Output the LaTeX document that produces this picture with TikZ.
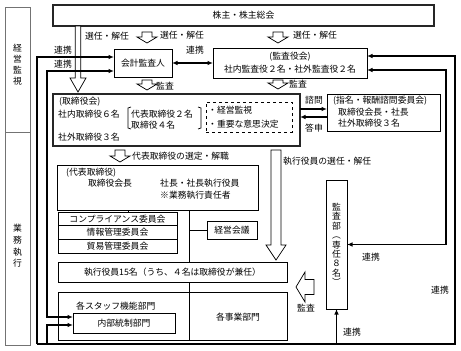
\documentclass[tikz,border=0pt]{standalone}
\usepackage{fontspec}
\setmainfont{Noto Sans CJK JP}
\usetikzlibrary{arrows.meta}
\newcommand\fs{\fontsize{8.8}{10.5}\selectfont}
\newcommand\hdarrow[6]{%
 \draw[hol] ({#1-#4},#2) -- ({#1-#4},{#3-#6}) -- ({#1-#5},{#3-#6}) -- (#1,#3) -- ({#1+#5},{#3-#6}) -- ({#1+#4},{#3-#6}) -- ({#1+#4},#2) -- cycle;}
\begin{document}
\begin{tikzpicture}[x=1pt,y=-1pt, font=\fs,
 bx/.style={draw, line width=0.7pt, inner sep=0pt, outer sep=0pt, anchor=north west},
 lbl/.style={inner sep=0pt},
 con/.style={line width=1.3pt, -{Latex[length=5.5pt,width=4.5pt]}},
 conb/.style={line width=1.3pt, {Latex[length=5.5pt,width=4.5pt]}-{Latex[length=5.5pt,width=4.5pt]}},
 thinl/.style={line width=0.7pt},
 hol/.style={draw, line width=0.7pt, fill=white, line join=miter}]
\useasboundingbox (0,0) rectangle (461,351);
\fill[white] (0,0) rectangle (461,351);

% left side labels
\node[bx, draw=black!55, minimum width=25pt, minimum height=125pt] (kanshi) at (5,7) {};
\node[bx, draw=black!55, minimum width=25pt, minimum height=213pt] (gyomu) at (5,132) {};
\node[lbl, align=center, font=\fontsize{8.8}{11}\selectfont] (tkanshi) at (17.5,64.5) {経\\営\\監\\視};
\node[lbl, align=center, font=\fontsize{8.8}{11.7}\selectfont] (tgyomu) at (17.5,246) {業\\務\\執\\行};

% shareholders
\node[bx, line width=1.6pt, draw=black!85, minimum width=381pt, minimum height=21pt] (kabu) at (53,5) {};
\node[lbl] (tkabu) at (kabu.center) {株主・株主総会};

% auditors
\node[bx, minimum width=58pt, minimum height=28pt] (kaikei) at (114,49) {会計監査人};
\node[bx, minimum width=154pt, minimum height=30pt, align=center, font=\fontsize{8.8}{13}\selectfont] (kansa) at (213,48) {(監査役会)\\社内監査役２名・社外監査役２名};

% board
\node[bx, line width=2pt, draw=black!85, minimum width=247pt, minimum height=52pt] (tori) at (53,94) {};
\node[lbl, anchor=west] (t1) at (59,102) {(取締役会)};
\node[lbl, anchor=west] (t2) at (58,114) {社内取締役６名};
\node[lbl, anchor=west] (t3) at (58,137) {社外取締役３名};
\node[lbl, anchor=west] (t4) at (131,114) {代表取締役２名};
\node[lbl, anchor=west] (t5) at (131,125) {取締役４名};
\draw[thinl] (131,107) -- (128,108) -- (128,128) -- (131,129);
\draw[thinl] (198,107) -- (201,108) -- (201,128) -- (198,129);
\node[bx, dashed, line width=0.6pt, minimum width=86pt, minimum height=30pt] (dash) at (206,102) {};
\node[lbl, anchor=west] (d1) at (208,110) {・経営監視};
\node[lbl, anchor=west] (d2) at (208,124) {・重要な意思決定};

% nomination committee
\node[bx, minimum width=113pt, minimum height=37pt] (shimei) at (327,94) {};
\node[lbl, anchor=west] (s1) at (333,101) {(指名・報酬諮問委員会)};
\node[lbl, anchor=west] (s2) at (338,112) {取締役会長・社長};
\node[lbl, anchor=west] (s3) at (338,123) {社外取締役３名};
\draw[con] ([yshift=11pt]tori.east) -- ([yshift=11pt]tori.east -| shimei.west);
\draw[con] ([yshift=3pt]tori.east -| shimei.west) -- ([yshift=3pt]tori.east);
\node[lbl] (lshimon) at (314,100) {諮問};
\node[lbl] (ltoshin) at (314,128) {答申};

% representative directors
\node[bx, minimum width=201pt, minimum height=45pt] (daihyo) at (57,165) {};
\node[lbl, anchor=west] (r1) at (66,173) {(代表取締役)};
\node[lbl] (r2) at (110,183) {取締役会長};
\node[lbl, anchor=west] (r3) at (160,183) {社長・社長執行役員};
\node[lbl, anchor=west] (r4) at (160,195) {※業務執行責任者};

% committees
\node[bx, minimum width=119pt, minimum height=13.7pt] (iin1) at (58,212) {コンプライアンス委員会};
\node[bx, minimum width=119pt, minimum height=13.7pt] (iin2) at (58,225.7) {情報管理委員会};
\node[bx, minimum width=119pt, minimum height=13.7pt] (iin3) at (58,239.4) {貿易管理委員会};
\node[bx, minimum width=50pt, minimum height=18pt] (keiei) at (207,221) {経営会議};

% executive officers
\node[bx, minimum width=229pt, minimum height=20pt] (shikko) at (58,262) {執行役員15名（うち、４名は取締役が兼任）};
\node[bx, minimum width=229pt, minimum height=48pt] (bumon) at (58,292) {};
\node[lbl, anchor=west] (staff) at (76,306) {各スタッフ機能部門};
\node[bx, minimum width=102pt, minimum height=20pt] (naibu) at (73,313) {内部統制部門};
\node[lbl] (jigyo) at (238,317) {各事業部門};

\coordinate (J) at (189,0);
\draw[thinl] ([xshift=10.5pt]iin1.north) -- ([xshift=10.5pt]iin1.north |- daihyo.south);
\draw[thinl] (daihyo.south -| J) -- (shikko.north -| J);
\draw[thinl] (J |- keiei.west) -- (keiei.west);
\draw[thinl] (shikko.south -| J) -- (bumon.south -| J);

% audit department
\node[bx, minimum width=21pt, minimum height=129pt] (kansabu) at (326,180) {};
\node[lbl, align=center, font=\fontsize{8.8}{9.4}\selectfont] (tkansabu) at (kansabu.center) {監\\査\\部\\︵\\専\\任\\８\\名\\︶};

% hollow arrows
\hdarrow{78}{26}{92}{2.8}{8}{14}
\hdarrow{147}{32}{43}{5}{10}{6}
\hdarrow{278}{32}{43}{5}{10}{6}
\hdarrow{147}{80}{90}{5}{10}{6}
\hdarrow{278}{80}{89}{5}{10}{6}
\hdarrow{120}{150}{162}{5}{10}{6}
\hdarrow{276}{150}{260}{5}{10}{15}
\draw[hol] (296,287) -- (305,272) -- (305,279.5) -- (314,279.5) -- (314,294.5) -- (305,294.5) -- (305,302) -- cycle;

% arrow labels
\node[lbl] (a1) at (107,36) {選任・解任};
\node[lbl] (a2) at (182,35) {選任・解任};
\node[lbl] (a3) at (315,35) {選任・解任};
\node[lbl] (a4) at (165,86) {監査};
\node[lbl] (a5) at (298,84) {監査};
\node[lbl, anchor=west] (a6) at (132,156) {代表取締役の選定・解職};
\node[lbl, anchor=west] (a7) at (283,161) {執行役員の選任・解任};
\node[lbl] (a8) at (306,308) {監査};

% cooperation lines
\coordinate (BL) at (37,344);
\coordinate (BR) at (455,344);
\coordinate (BL2) at (47,344);
\coordinate (IL) at (47,200);
\coordinate (RI) at (446,150);
\draw[conb] (kaikei.east) -- (kansa.west);
\draw[con] (BL) |- ([yshift=6pt]kaikei.west);
\draw[con] (BL) -- (BR) |- ([yshift=7pt]kansa.east);
\draw[con] (kansabu.south |- BL) -- (kansabu.south);
\draw[con] (BL2) |- ([yshift=-2pt]naibu.west);
\draw[conb] ([yshift=-8pt]kaikei.west) -| (IL) |- ([yshift=6pt]naibu.west);
\draw[conb] ([yshift=-7pt]kansa.east) -| (RI) |- (kansabu.east);

\node[lbl] (c1) at (63,50) {連携};
\node[lbl] (c2) at (63,64) {連携};
\node[lbl] (c3) at (195,50) {連携};
\node[lbl] (c4) at (371,257) {連携};
\node[lbl] (c5) at (440,290) {連携};
\node[lbl] (c6) at (352,332) {連携};
\end{tikzpicture}
\end{document}
